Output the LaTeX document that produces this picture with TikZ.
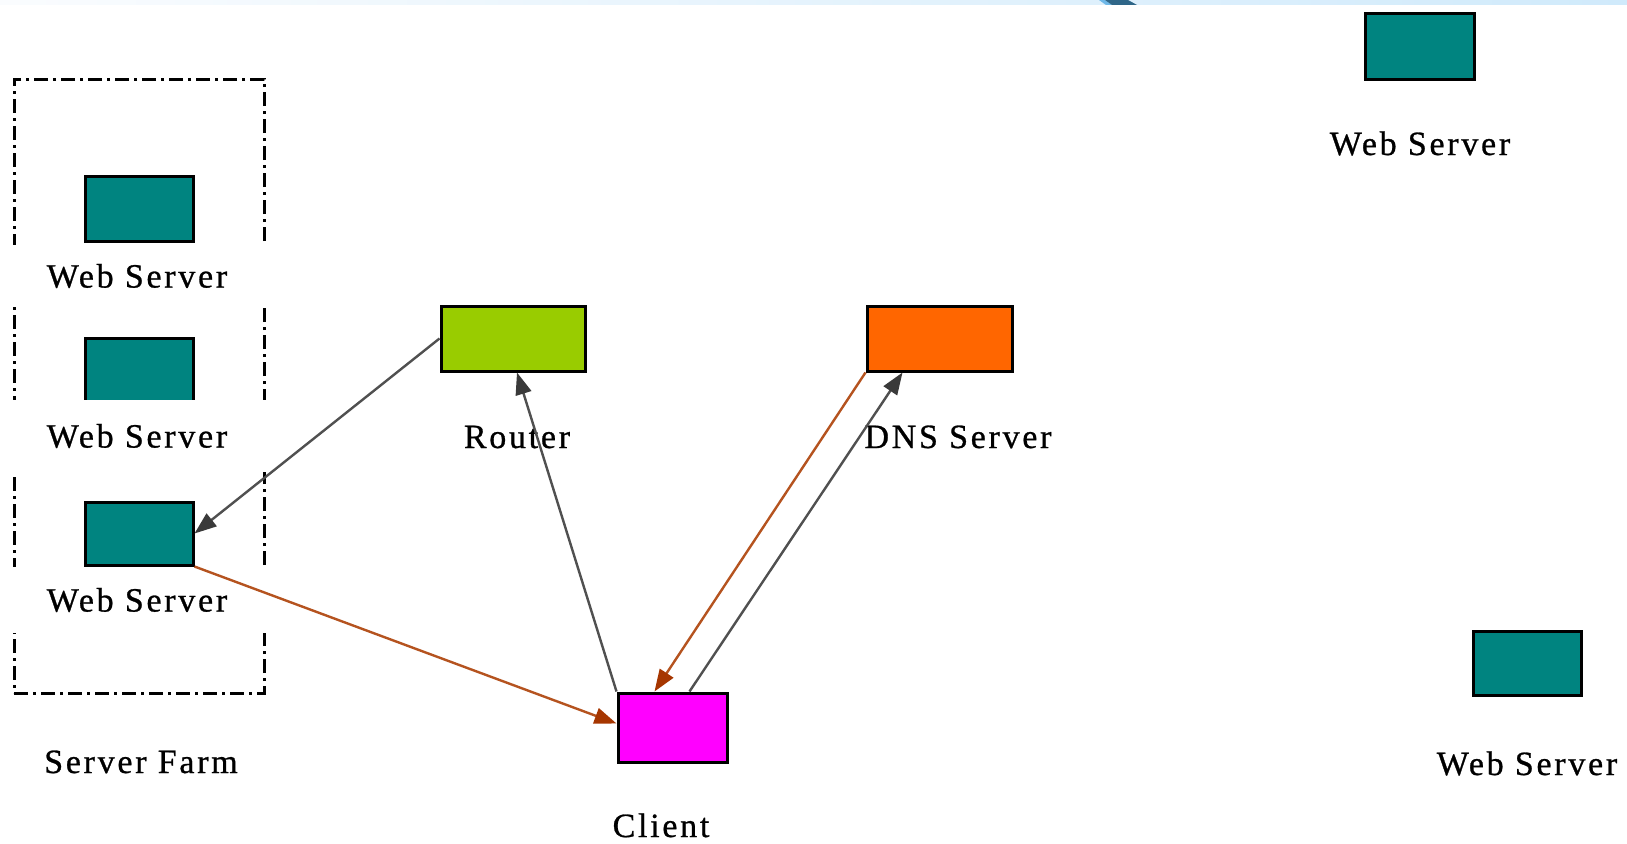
\documentclass[tikz,border=0pt]{standalone}
\usepackage{fontspec}
\newfontfamily\labelfont{Liberation Serif}[LetterSpace=8, FakeBold=0.8]
\usetikzlibrary{arrows.meta,calc}

\definecolor{srvteal}{HTML}{008480}
\definecolor{routergreen}{HTML}{99CC00}
\definecolor{dnsorange}{HTML}{FF6600}
\definecolor{clientmagenta}{HTML}{FF00FF}
\definecolor{greyline}{HTML}{505050}
\definecolor{greytip}{HTML}{3A3A3A}
\definecolor{brownline}{HTML}{B5531F}
\definecolor{browntip}{HTML}{A63600}
\definecolor{stripleft}{HTML}{FAFCFE}
\definecolor{stripright}{HTML}{D0EAFB}
\definecolor{stripdark}{HTML}{2F6688}
\definecolor{stripedge}{HTML}{6FB8E8}

\tikzset{
  devbox/.style={draw=black, line width=3pt, inner sep=0pt},
  srvbox/.style={devbox, fill=srvteal, minimum width=108pt, minimum height=65pt},
  caption/.style={font=\labelfont\fontsize{34}{40}\selectfont, inner sep=0pt, anchor=base},
  farmcaption/.style={font=\labelfont\fontsize{34}{40}\selectfont, inner sep=0pt,
    fill=white, minimum width=262pt},
  farmbox/.style={draw=black, line width=3pt,
    dash pattern=on 14pt off 5pt on 3pt off 5pt},
  greyarrow/.style={draw=greyline, line width=2.4pt,
    -{Triangle[length=22pt,width=16pt,color=greytip]}},
  brownarrow/.style={draw=brownline, line width=2.4pt,
    -{Triangle[length=22pt,width=16pt,color=browntip]}}
}

\begin{document}
\begin{tikzpicture}[x=1pt,y=-1pt]
  % page
  \fill[white] (0,0) rectangle (1627,843);
  \useasboundingbox (0,0) rectangle (1627,843);

  % thin header band
  \shade[left color=stripleft, right color=stripright] (0,0) rectangle (1627,5);
  \fill[stripedge] (1099,0) -- (1105,0) -- (1112,5) -- (1106,5) -- cycle;
  \fill[stripdark] (1105,0) -- (1128,0) -- (1137,5) -- (1112,5) -- cycle;

  % server farm frame
  \node[farmbox, minimum width=250pt, minimum height=614pt, inner sep=0pt] (farm) at (139,386) {};

  % devices
  \node[srvbox] (ws1) at (139,209) {};
  \node[srvbox, minimum height=66pt] (ws2) at (139,371) {};
  \node[srvbox, minimum height=63pt] (ws3) at (139,533.5) {};
  \node[srvbox, minimum width=109pt] (ws4) at (1419.5,46.5) {};
  \node[srvbox, minimum height=64pt] (ws5) at (1527,663) {};
  \node[devbox, fill=routergreen, minimum width=144pt, minimum height=65pt] (router) at (513,338.5) {};
  \node[devbox, fill=dnsorange, minimum width=145pt, minimum height=65pt] (dns) at (939.5,338.5) {};
  \node[devbox, fill=clientmagenta, minimum width=109pt, minimum height=69pt] (client) at (672.5,727.5) {};

  % captions inside the farm (white backing breaks the frame)
  \node[farmcaption, minimum height=62pt] (ws1-label) at (137,276) {Web Server};
  \node[farmcaption, minimum height=72pt] (ws2-label) at (137,436) {Web Server};
  \node[farmcaption, minimum height=66pt] (ws3-label) at (137,600) {Web Server};

  % other captions
  \node[caption] (farm-label) at (141,773) {Server Farm};
  \node[caption] (ws4-label) at (1420,155) {Web Server};
  \node[caption] (ws5-label) at (1527,775) {Web Server};
  \node[caption] (router-label) at (517,448) {Router};
  \node[caption] (dns-label) at (958,448) {DNS Server};
  \node[caption] (client-label) at (661,837) {Client};

  % connections
  \draw[greyarrow] (router.west) -- (ws3.east);
  \draw[brownarrow] (ws3.south east) -- ([yshift=4pt]client.west);
  \draw[greyarrow] (client.north west) -- ([xshift=4pt]router.south);
  \draw[brownarrow] (dns.south west) -- ([xshift=-18pt]client.north);
  \draw[greyarrow] ([xshift=17pt]client.north) -- ([xshift=-37pt]dns.south);
\end{tikzpicture}
\end{document}
